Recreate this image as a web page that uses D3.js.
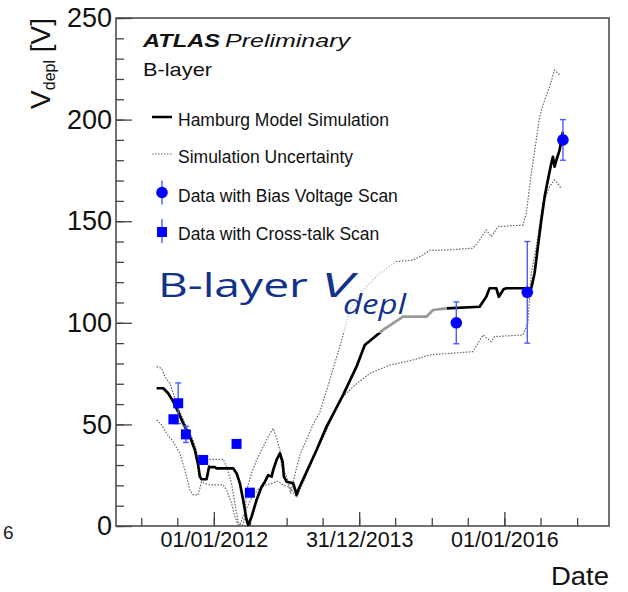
<!DOCTYPE html>
<html>
<head>
<meta charset="utf-8">
<script src="https://cdn.jsdelivr.net/npm/d3@7"></script>
<style>
body { margin: 0; background: #fff; }
svg { display: block; font-family: "Liberation Sans", Arial, sans-serif; }
</style>
</head>
<body>
<div id="chart-area"></div>
<script>

// Hamburg model simulation (decimal year, V)
var simYear = [2011.212, 2011.303, 2011.371, 2011.440, 2011.509, 2011.578, 2011.670, 2011.739, 2011.784, 2011.807,
    2011.831, 2011.900, 2011.935, 2011.945, 2012.014, 2012.037, 2012.265, 2012.312, 2012.358, 2012.403,
    2012.450, 2012.472, 2012.519, 2012.587, 2012.656, 2012.702, 2012.747, 2012.794, 2012.816, 2012.862,
    2012.908, 2012.945, 2012.963, 2013.000, 2013.091, 2013.138, 2013.160, 2013.413, 2013.550, 2013.641,
    2013.779, 2013.963, 2014.077, 2014.191, 2014.329, 2014.604, 2014.926, 2015.017, 2015.201, 2015.659,
    2015.751, 2015.796, 2015.889, 2015.924, 2015.989, 2016.026, 2016.370, 2016.415, 2016.461, 2016.508,
    2016.553, 2016.598, 2016.645, 2016.667, 2016.690, 2016.714, 2016.759, 2016.805];
var simV = [67.8, 67.8, 65.3, 61.2, 56.2, 50.5, 44.0, 37.4, 30.0, 24.3,
    23.0, 23.0, 29.2, 29.0, 29.0, 28.4, 28.4, 26.0, 21.0, 12.8,
    3.0, 0.5, 4.6, 12.8, 19.3, 21.8, 25.0, 24.3, 27.6, 32.5,
    35.8, 31.6, 24.3, 21.8, 21.0, 15.3, 17.7, 37.4, 48.9, 55.0,
    64.5, 78.4, 89.1, 92.4, 96.5, 103.0, 103.0, 106.3, 107.1, 107.9,
    112.8, 117.0, 117.0, 112.8, 116.5, 117.0, 117.0, 124.4, 137.5, 150.6,
    162.0, 170.3, 178.5, 181.7, 176.8, 180.0, 185.0, 194.0];

// simulation uncertainty, upper edge
var upYear = [2011.212, 2011.281, 2011.326, 2011.395, 2011.464, 2011.532, 2011.624, 2011.715, 2011.784, 2011.807,
    2012.128, 2012.175, 2012.243, 2012.289, 2012.334, 2012.358, 2012.403, 2012.425, 2012.450, 2012.519,
    2012.587, 2012.678, 2012.747, 2012.816, 2012.862, 2012.908, 2012.931, 2013.000, 2013.055, 2013.083,
    2013.183, 2013.366, 2013.458, 2013.595, 2013.733, 2013.871, 2014.054, 2014.283, 2014.513, 2014.741,
    2014.879, 2014.971, 2015.201, 2015.567, 2015.659, 2015.751, 2015.820, 2015.911, 2016.255, 2016.301,
    2016.370, 2016.439, 2016.484, 2016.553, 2016.622, 2016.690, 2016.759];
var upV = [78.4, 77.6, 73.5, 70.2, 62.8, 56.2, 48.9, 42.3, 34.1, 32.8,
    32.8, 29.2, 21.0, 11.2, 2.1, 0.5, 0.5, 5.0, 17.7, 26.0,
    32.5, 39.0, 44.0, 48.0, 43.2, 37.4, 29.2, 24.3, 16.1, 21.0,
    35.0, 50.0, 56.0, 72.0, 88.2, 106.3, 116.1, 124.4, 130.1, 130.9,
    133.4, 135.8, 135.8, 136.7, 140.7, 145.7, 142.4, 147.3, 148.1, 153.9,
    173.6, 190.0, 201.4, 209.6, 216.2, 224.4, 222.0];

// simulation uncertainty, lower edge
var lowYear = [2011.212, 2011.281, 2011.349, 2011.440, 2011.532, 2011.601, 2011.670, 2011.715, 2011.784, 2011.831,
    2011.876, 2011.945, 2012.128, 2012.175, 2012.243, 2012.289, 2012.334, 2012.358, 2012.440, 2012.523,
    2012.605, 2012.702, 2012.798, 2012.880, 2012.963, 2013.045, 2013.138, 2013.183, 2013.413, 2013.550,
    2013.733, 2013.916, 2014.146, 2014.421, 2014.741, 2014.971, 2015.567, 2015.704, 2015.820, 2015.865,
    2016.255, 2016.323, 2016.370, 2016.439, 2016.530, 2016.622, 2016.690, 2016.735, 2016.782];
var lowV = [52.2, 49.7, 45.6, 41.5, 35.8, 27.6, 17.7, 15.3, 15.3, 21.8,
    21.0, 20.2, 20.2, 17.7, 11.2, 4.6, 0.5, 0.5, 8.0, 14.0,
    18.0, 20.0, 21.0, 22.0, 20.0, 19.0, 14.0, 17.7, 37.0, 47.0,
    62.0, 68.6, 75.1, 79.2, 81.7, 84.2, 85.8, 94.0, 90.7, 93.2,
    94.0, 99.8, 124.4, 137.5, 158.8, 167.0, 170.3, 168.6, 166.0];

// data with bias voltage scan
var biasYear = [2015.338, 2016.315, 2016.805];
var biasV = [100, 115, 190];
var biasErr = [10.3, 25, 10];

// data with cross-talk scan
var xtalkYear = [2011.443, 2011.509, 2011.615, 2011.853, 2012.312, 2012.495];
var xtalkV = [52.5, 60.4, 45.1, 32.5, 40.4, 16.4];
var xtalkErr = [2, 10, 4, 2, 0, 2];

var yTicks = [0, 50, 100, 150, 200, 250];
var xTickDates = ["2012-01-01", "2014-01-01", "2016-01-01"];
var xTickLabels = ["01/01/2012", "31/12/2013", "01/01/2016"];

var legendLabels = ["Hamburg Model Simulation", "Simulation Uncertainty",
    "Data with Bias Voltage Scan", "Data with Cross-talk Scan"];

var width = 628;
var height = 592;
var frame = {left: 116, right: 609, top: 18, bottom: 526};

function yearToDate(v) {
    var yr = Math.floor(v);
    var a = Date.UTC(yr, 0, 1), b = Date.UTC(yr + 1, 0, 1);
    return new Date(a + (v - yr) * (b - a));
}

var svg = d3.select("#chart-area").append("svg")
    .attr("width", width)
    .attr("height", height);

svg.append("rect")
    .attr("width", width)
    .attr("height", height)
    .attr("fill", "#fff");

var x = d3.scaleUtc()
    .domain([yearToDate(2010.652), yearToDate(2017.439)])
    .range([frame.left, frame.right]);

var y = d3.scaleLinear()
    .domain([0, 250])
    .range([frame.bottom, frame.top]);

// AXES (ROOT style: ticks pointing inside)

var yMinor = svg.append("g")
    .attr("transform", "translate(" + frame.left + ",0)")
    .call(d3.axisLeft(y).tickValues(d3.range(0, 251, 10)).tickSize(-8).tickFormat(""));
yMinor.select(".domain").remove();

var yMajor = svg.append("g")
    .attr("transform", "translate(" + frame.left + ",0)")
    .call(d3.axisLeft(y).tickValues(yTicks).tickSize(-16).tickPadding(4).tickFormat(d3.format("d")));
yMajor.select(".domain").remove();
yMajor.selectAll("text")
    .attr("font-family", "Liberation Sans, Arial, sans-serif")
    .attr("font-size", 27)
    .attr("fill", "#111");

var halfYears = d3.utcMonth.every(6).range(new Date(Date.UTC(2011, 0, 1)), new Date(Date.UTC(2017, 1, 1)));

var xMinor = svg.append("g")
    .attr("transform", "translate(0," + frame.bottom + ")")
    .call(d3.axisBottom(x).tickValues(halfYears).tickSize(-8).tickFormat(""));
xMinor.select(".domain").remove();

var majorDates = xTickDates.map(function(d) { return new Date(d + "T00:00:00Z"); });
var xMajor = svg.append("g")
    .attr("transform", "translate(0," + frame.bottom + ")")
    .call(d3.axisBottom(x).tickValues(majorDates).tickSize(-14).tickPadding(6)
        .tickFormat(function(d, i) { return xTickLabels[i]; }));
xMajor.select(".domain").remove();
xMajor.selectAll("text")
    .attr("font-family", "Liberation Sans, Arial, sans-serif")
    .attr("font-size", 21.5)
    .attr("fill", "#111");

svg.selectAll(".tick line")
    .attr("stroke", "#444")
    .attr("stroke-width", 1.3);

// frame
svg.append("rect")
    .attr("x", frame.left)
    .attr("y", frame.top)
    .attr("width", frame.right - frame.left)
    .attr("height", frame.bottom - frame.top)
    .attr("fill", "none")
    .attr("stroke", "#444")
    .attr("stroke-width", 1.5);

// axis titles
var yTitle = svg.append("text")
    .attr("transform", "translate(50," + frame.top + ") rotate(-90)")
    .attr("text-anchor", "end")
    .attr("font-size", 28)
    .attr("fill", "#111");
yTitle.append("tspan").text("V");
yTitle.append("tspan").attr("font-size", 16).attr("dy", 5).text("depl");
yTitle.append("tspan").attr("dy", -5).text(" [V]");

svg.append("text")
    .attr("x", frame.right)
    .attr("y", 585)
    .attr("text-anchor", "end")
    .attr("font-size", 25)
    .attr("textLength", 58)
    .attr("lengthAdjust", "spacingAndGlyphs")
    .attr("fill", "#111")
    .text("Date");

// slide page number peeking in
svg.append("text")
    .attr("x", 3)
    .attr("y", 539)
    .attr("font-size", 19)
    .attr("fill", "#222")
    .text("6");

// CURVES

var line = d3.line()
    .x(function(d) { return x(yearToDate(d[0])); })
    .y(function(d) { return y(d[1]); });

svg.append("path")
    .datum(d3.zip(upYear, upV))
    .attr("d", line)
    .attr("fill", "none")
    .attr("stroke", "#666")
    .attr("stroke-width", 1.2)
    .attr("stroke-dasharray", "1.5,1.5");

svg.append("path")
    .datum(d3.zip(lowYear, lowV))
    .attr("d", line)
    .attr("fill", "none")
    .attr("stroke", "#666")
    .attr("stroke-width", 1.2)
    .attr("stroke-dasharray", "1.5,1.5");

svg.append("path")
    .datum(d3.zip(simYear, simV))
    .attr("d", line)
    .attr("fill", "none")
    .attr("stroke", "#000")
    .attr("stroke-width", 2.7)
    .attr("stroke-linejoin", "round");

// DATA POINTS

var errColor = "#4a5cff";
var markColor = "#0000ff";

function errorBar(g, cx, v, e) {
    if (e <= 0) return;
    g.append("line")
        .attr("x1", cx).attr("x2", cx)
        .attr("y1", y(v + e)).attr("y2", y(v - e))
        .attr("stroke", errColor).attr("stroke-width", 1.4);
    [v + e, v - e].forEach(function(t) {
        g.append("line")
            .attr("x1", cx - 3).attr("x2", cx + 3)
            .attr("y1", y(t)).attr("y2", y(t))
            .attr("stroke", errColor).attr("stroke-width", 1.4);
    });
}

var points = svg.append("g");

xtalkYear.forEach(function(yr, i) {
    errorBar(points, x(yearToDate(yr)), xtalkV[i], xtalkErr[i]);
});
points.selectAll("rect.xtalk")
    .data(d3.zip(xtalkYear, xtalkV))
    .enter()
    .append("rect")
    .attr("class", "xtalk")
    .attr("x", function(d) { return x(yearToDate(d[0])) - 5; })
    .attr("y", function(d) { return y(d[1]) - 5; })
    .attr("width", 10)
    .attr("height", 10)
    .attr("fill", markColor);

biasYear.forEach(function(yr, i) {
    errorBar(points, x(yearToDate(yr)), biasV[i], biasErr[i]);
});
points.selectAll("circle.bias")
    .data(d3.zip(biasYear, biasV))
    .enter()
    .append("circle")
    .attr("class", "bias")
    .attr("cx", function(d) { return x(yearToDate(d[0])); })
    .attr("cy", function(d) { return y(d[1]); })
    .attr("r", 5.8)
    .attr("fill", markColor);

// LABELS

svg.append("text")
    .attr("x", 143).attr("y", 47)
    .attr("font-size", 19)
    .attr("font-weight", "bold")
    .attr("font-style", "italic")
    .attr("textLength", 77)
    .attr("lengthAdjust", "spacingAndGlyphs")
    .attr("fill", "#111")
    .text("ATLAS");

svg.append("text")
    .attr("x", 225).attr("y", 47)
    .attr("font-size", 19)
    .attr("font-style", "italic")
    .attr("textLength", 125)
    .attr("lengthAdjust", "spacingAndGlyphs")
    .attr("fill", "#111")
    .text("Preliminary");

svg.append("text")
    .attr("x", 143).attr("y", 76)
    .attr("font-size", 19)
    .attr("textLength", 69)
    .attr("lengthAdjust", "spacingAndGlyphs")
    .attr("fill", "#111")
    .text("B-layer");

// LEGEND

var legend = svg.append("g")
    .attr("transform", "translate(152,0)");

var rowY = [126, 163, 201.5, 240];

legendLabels.forEach(function(label, i) {
    var row = legend.append("g")
        .attr("transform", "translate(0," + rowY[i] + ")");
    if (i == 0) {
        row.append("line").attr("x1", 0).attr("x2", 20).attr("y1", -9).attr("y2", -9)
            .attr("stroke", "#000").attr("stroke-width", 2.5);
    } else if (i == 1) {
        row.append("line").attr("x1", 0).attr("x2", 20).attr("y1", -9).attr("y2", -9)
            .attr("stroke", "#666").attr("stroke-width", 1.2).attr("stroke-dasharray", "1.5,1.5");
    } else {
        row.append("line").attr("x1", 10).attr("x2", 10).attr("y1", -21).attr("y2", 3)
            .attr("stroke", errColor).attr("stroke-width", 1.4);
        if (i == 2) {
            row.append("circle").attr("cx", 10).attr("cy", -9).attr("r", 5.8).attr("fill", markColor);
        } else {
            row.append("rect").attr("x", 5).attr("y", -13).attr("width", 10).attr("height", 10).attr("fill", markColor);
        }
    }
    row.append("text")
        .attr("x", 26)
        .attr("y", 0)
        .attr("font-size", 17.5)
        .attr("fill", "#111")
        .text(label);
});

// SLIDE OVERLAY TEXT (semi-transparent box over the plot)

svg.append("rect")
    .attr("x", 150)
    .attr("y", 262)
    .attr("width", 297)
    .attr("height", 71)
    .attr("fill", "#fff")
    .attr("fill-opacity", 0.6);

var navy = "#12328c";

svg.append("text")
    .attr("x", 158).attr("y", 297)
    .attr("font-family", "'Open Sans', Lato, sans-serif")
    .attr("font-size", 33)
    .attr("textLength", 150)
    .attr("lengthAdjust", "spacingAndGlyphs")
    .attr("fill", navy)
    .text("B-layer");

svg.append("text")
    .attr("x", 321).attr("y", 297)
    .attr("font-family", "'Open Sans', Lato, sans-serif")
    .attr("font-size", 33)
    .attr("font-style", "italic")
    .attr("textLength", 32)
    .attr("lengthAdjust", "spacingAndGlyphs")
    .attr("fill", navy)
    .text("V");

svg.append("text")
    .attr("x", 343).attr("y", 314)
    .attr("font-family", "'Open Sans', Lato, sans-serif")
    .attr("font-size", 28)
    .attr("font-style", "italic")
    .attr("textLength", 63)
    .attr("lengthAdjust", "spacingAndGlyphs")
    .attr("fill", navy)
    .text("depl");

</script>
</body>
</html>
